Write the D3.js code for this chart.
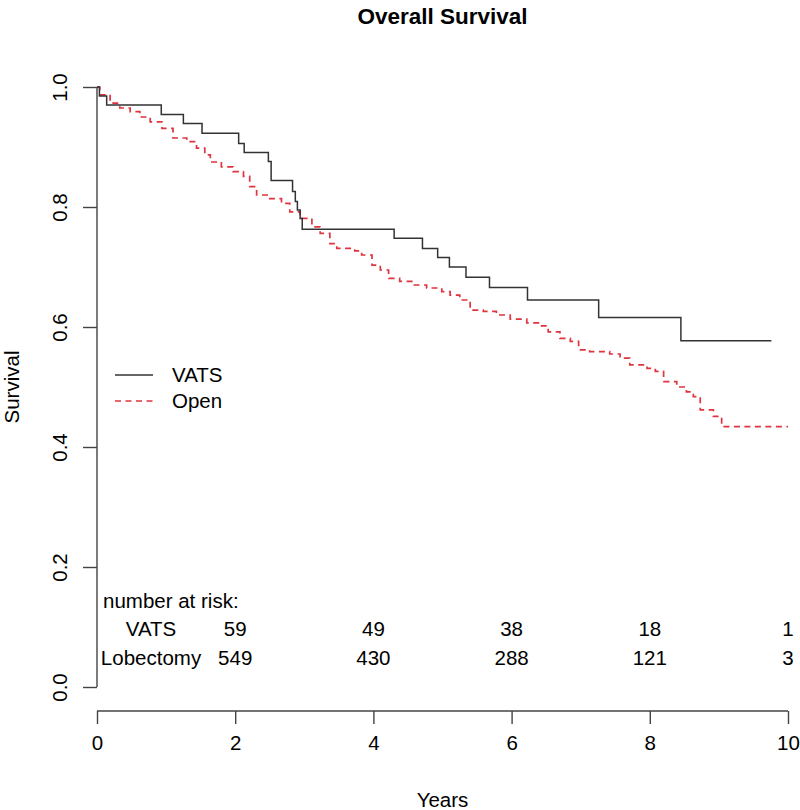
<!DOCTYPE html>
<html><head><meta charset="utf-8">
<script src="https://cdn.jsdelivr.net/npm/d3@7"></script>
<style>body{margin:0;background:#fff}svg{display:block}text{font-family:"Liberation Sans",Arial,Helvetica,sans-serif;fill:#000}</style>
</head><body><div id="chart"></div>
<script>
// VATS Kaplan-Meier steps: [time (years), survival]
const vatsTimes = [0, 0.035, 0.14, 0.93, 1.25, 1.52, 2.05, 2.13, 2.48, 2.52, 2.83, 2.87, 2.90, 2.94, 2.97, 4.30, 4.71, 4.93, 5.10, 5.34, 5.68, 6.23, 7.26, 8.45, 9.76];
const vatsSurv  = [1.0, 0.985, 0.970, 0.954, 0.939, 0.923, 0.906, 0.891, 0.876, 0.844, 0.826, 0.809, 0.795, 0.781, 0.763, 0.748, 0.731, 0.716, 0.700, 0.683, 0.666, 0.645, 0.616, 0.577, 0.577];
// Open lobectomy curve
const openTimes = [0, 0.04, 0.19, 0.33, 0.48, 0.62, 0.77, 0.94, 1.10, 1.30, 1.44, 1.56, 1.64, 1.80, 1.97, 2.12, 2.21, 2.31, 2.50, 2.67, 2.79, 2.94, 3.11, 3.23, 3.37, 3.47, 3.73, 3.83, 3.98, 4.10, 4.22, 4.38, 4.58, 4.77, 4.99, 5.11, 5.25, 5.40, 5.59, 5.78, 5.98, 6.22, 6.41, 6.53, 6.70, 6.85, 6.97, 7.13, 7.42, 7.57, 7.71, 7.96, 8.08, 8.20, 8.39, 8.53, 8.63, 8.73, 8.92, 9.04, 10.0];
const openSurv  = [1.0, 0.987, 0.973, 0.965, 0.959, 0.950, 0.942, 0.931, 0.915, 0.909, 0.898, 0.887, 0.875, 0.867, 0.859, 0.851, 0.834, 0.820, 0.814, 0.806, 0.792, 0.781, 0.767, 0.756, 0.739, 0.731, 0.727, 0.720, 0.703, 0.695, 0.681, 0.676, 0.670, 0.665, 0.659, 0.653, 0.645, 0.628, 0.626, 0.620, 0.613, 0.607, 0.602, 0.592, 0.581, 0.576, 0.562, 0.559, 0.555, 0.548, 0.537, 0.531, 0.526, 0.509, 0.500, 0.492, 0.484, 0.462, 0.451, 0.434, 0.434];
// Axis ticks
const xTicks = [0, 2, 4, 6, 8, 10];
const yTicks = [0.0, 0.2, 0.4, 0.6, 0.8, 1.0];
// Numbers at risk
const riskLabelTimes = [2, 4, 6, 8, 10];
const riskVATS = [59, 49, 38, 18, 1];
const riskLobectomy = [549, 430, 288, 121, 3];
const groupNames = ["VATS", "Open"];
const riskRowNames = ["VATS", "Lobectomy"];

const W = 800, H = 810;
const svg = d3.select("#chart").append("svg").attr("width", W).attr("height", H);
const x = d3.scaleLinear().domain([0, 10]).range([97, 788]);
const y = d3.scaleLinear().domain([0, 1]).range([687, 87]);
const FS = 20.5;
const RED = "#e0343f";

// title
svg.append("text").attr("x", (x(0)+x(10))/2).attr("y", 24).attr("text-anchor","middle")
  .attr("font-weight","bold").attr("font-size", 22.5).text("Overall Survival");

// x axis
const xAxis = svg.append("g").attr("transform", `translate(0,${y(-0.04)})`)
  .call(d3.axisBottom(x).tickValues(xTicks).tickFormat(d3.format("d")).tickSize(13).tickPadding(11));
xAxis.selectAll("text").attr("font-size", FS).attr("font-family", null);
xAxis.select(".domain").attr("d", `M${x(0)},0H${x(10)}`);
// y axis
const yAxis = svg.append("g").attr("transform", `translate(${x(0)},0)`)
  .call(d3.axisLeft(y).tickValues(yTicks).tickFormat(d3.format(".1f")).tickSize(14).tickPadding(0));
yAxis.select(".domain").attr("d", `M0,${y(0)}V${y(1)}`);
yAxis.selectAll(".tick text").attr("font-size", FS).attr("font-family", null)
  .attr("x", null).attr("dy", null).attr("text-anchor","middle")
  .attr("transform", "translate(-30,0) rotate(-90)");
svg.selectAll(".domain, .tick line").attr("stroke", "#444").attr("stroke-width", 1.4);

// axis titles
svg.append("text").attr("x", (x(0)+x(10))/2).attr("y", 807).attr("text-anchor","middle").attr("font-size", FS).text("Years");
svg.append("text").attr("transform", `translate(19,${(y(0)+y(1))/2}) rotate(-90)`).attr("text-anchor","middle").attr("font-size", FS).text("Survival");

// curves
const line = d3.line().x(d => x(d[0])).y(d => y(d[1])).curve(d3.curveStepAfter);
const vats = vatsTimes.map((t,i) => [t, vatsSurv[i]]);
const open = openTimes.map((t,i) => [t, openSurv[i]]);
svg.append("path").datum(open).attr("d", line).attr("fill","none")
  .attr("stroke", RED).attr("stroke-width", 1.7).attr("stroke-dasharray", "6,4.5");
svg.append("path").datum(vats).attr("d", line).attr("fill","none")
  .attr("stroke", "#333").attr("stroke-width", 1.5);

// legend
const leg = svg.append("g");
groupNames.forEach((g, i) => {
  const ly = 375 + i*26;
  leg.append("line").attr("x1", 115).attr("x2", 153).attr("y1", ly).attr("y2", ly)
    .attr("stroke", i===0 ? "#333" : RED).attr("stroke-width", 1.4)
    .attr("stroke-dasharray", i===0 ? null : "6,4.5");
  leg.append("text").attr("x", 172).attr("y", ly).attr("dy", "0.35em").attr("font-size", FS).text(g);
});

// numbers at risk
svg.append("text").attr("x", 103).attr("y", 601).attr("dy","0.35em").attr("font-size", FS).text("number at risk:");
[riskVATS, riskLobectomy].forEach((row, r) => {
  const ry = 629 + r*29;
  svg.append("text").attr("x", 151).attr("y", ry).attr("dy","0.35em").attr("text-anchor","middle").attr("font-size", FS).text(riskRowNames[r]);
  row.forEach((v, i) => {
    svg.append("text").attr("x", x(riskLabelTimes[i])).attr("y", ry).attr("dy","0.35em")
      .attr("text-anchor","middle").attr("font-size", FS).text(v);
  });
});
</script></body></html>
